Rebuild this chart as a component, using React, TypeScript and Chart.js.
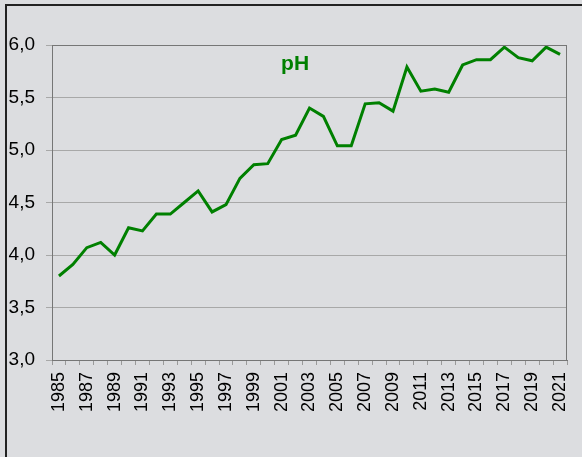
import React, { useEffect, useRef } from "react";
import { Chart, registerables } from "chart.js";

Chart.register(...registerables);

const years: string[] = [
  "1985", "1986", "1987", "1988", "1989", "1990", "1991", "1992", "1993", "1994",
  "1995", "1996", "1997", "1998", "1999", "2000", "2001", "2002", "2003", "2004",
  "2005", "2006", "2007", "2008", "2009", "2010", "2011", "2012", "2013", "2014",
  "2015", "2016", "2017", "2018", "2019", "2020", "2021",
];

const phValues: number[] = [
  3.8, 3.91, 4.07, 4.12, 4.0, 4.26, 4.23, 4.39, 4.39, 4.5,
  4.61, 4.41, 4.48, 4.73, 4.86, 4.87, 5.1, 5.14, 5.4, 5.32,
  5.04, 5.04, 5.44, 5.45, 5.37, 5.79, 5.56, 5.58, 5.55, 5.81,
  5.86, 5.86, 5.98, 5.88, 5.85, 5.98, 5.91,
];

const yMin = 3.0;
const yMax = 6.0;
const yStep = 0.5;
const seriesTitle = "pH";

const FONT = "'Liberation Sans', Arial, sans-serif";

const overlayPlugin = {
  id: "overlay",
  afterDraw(chart: any) {
    const { ctx, chartArea } = chart;
    ctx.save();
    ctx.strokeStyle = "#767676";
    ctx.lineWidth = 1;
    ctx.strokeRect(
      Math.round(chartArea.left) + 0.5,
      Math.round(chartArea.top) + 0.5,
      Math.round(chartArea.right - chartArea.left) - 1,
      Math.round(chartArea.bottom - chartArea.top)
    );
    ctx.fillStyle = "#008000";
    ctx.font = `bold 21px ${FONT}`;
    ctx.textAlign = "center";
    ctx.textBaseline = "alphabetic";
    const x = chartArea.left + (chartArea.right - chartArea.left) * 0.472;
    ctx.fillText(seriesTitle, x, chartArea.top + 25);
    ctx.restore();
  },
};

export default function App() {
  const canvasRef = useRef<HTMLCanvasElement | null>(null);

  useEffect(() => {
    if (!canvasRef.current) return;
    const chart = new Chart(canvasRef.current, {
      type: "line",
      data: {
        labels: years,
        datasets: [
          {
            label: seriesTitle,
            data: phValues,
            borderColor: "#008000",
            borderWidth: 3,
            pointRadius: 0,
            tension: 0,
            fill: false,
          },
        ],
      },
      options: {
        animation: false,
        responsive: false,
        maintainAspectRatio: false,
        layout: { padding: { left: 0, top: 45, right: 15, bottom: 0 } },
        plugins: {
          legend: { display: false },
          title: { display: false },
          tooltip: { enabled: false },
        },
        scales: {
          x: {
            type: "category",
            offset: true,
            grid: {
              offset: true,
              drawOnChartArea: false,
              drawTicks: true,
              tickLength: 5,
              color: "#9a9a9a",
            },
            border: { color: "#767676" },
            ticks: {
              autoSkip: false,
              minRotation: 90,
              maxRotation: 90,
              padding: 7,
              color: "#000",
              font: { family: FONT, size: 18 },
              callback: (_v: any, i: number) => (i % 2 === 0 ? years[i] : ""),
            },
            afterFit: (s: any) => {
              s.height = 97;
              s.paddingLeft = 0;
              s.paddingRight = 0;
            },
          },
          y: {
            min: yMin,
            max: yMax,
            grid: {
              color: "#a8a8a8",
              tickLength: 6,
              drawTicks: true,
            },
            border: { color: "#767676" },
            ticks: {
              stepSize: yStep,
              padding: 11,
              color: "#000",
              font: { family: FONT, size: 19 },
              callback: (v: any) => Number(v).toFixed(1).replace(".", ","),
            },
            afterFit: (s: any) => {
              s.width = 52;
              s.paddingTop = 0;
              s.paddingBottom = 0;
            },
          },
        },
      },
      plugins: [overlayPlugin],
    });
    return () => chart.destroy();
  }, []);

  return (
    <div
      style={{
        position: "fixed",
        left: 0,
        top: 0,
        width: 582,
        height: 457,
        background: "#dcdde0",
        overflow: "hidden",
      }}
    >
      <style>{"html,body{margin:0;padding:0;overflow:hidden;background:#dcdde0}"}</style>
      <div
        style={{
          position: "absolute",
          left: 5,
          top: 4,
          width: 2,
          height: 453,
          background: "#222",
        }}
      />
      <div
        style={{
          position: "absolute",
          left: 5,
          top: 4,
          width: 577,
          height: 2,
          background: "#222",
        }}
      />
      <canvas
        ref={canvasRef}
        width={582}
        height={457}
        style={{ position: "absolute", left: 0, top: 0, width: 582, height: 457 }}
      />
    </div>
  );
}
